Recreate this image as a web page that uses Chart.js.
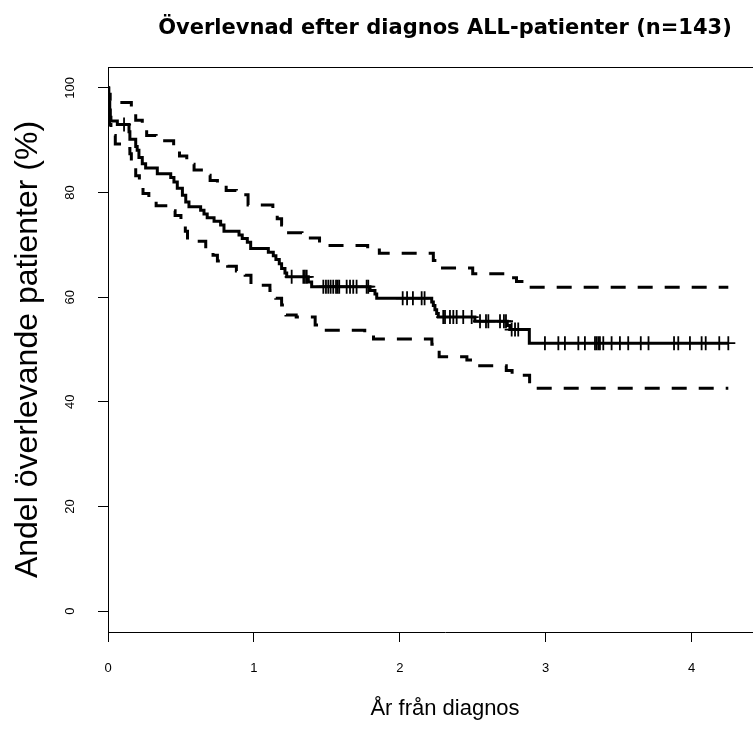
<!DOCTYPE html>
<html>
<head>
<meta charset="utf-8">
<script src="https://cdn.jsdelivr.net/npm/chart.js@4.4.1/dist/chart.umd.min.js"></script>
<style>
  html, body { margin: 0; padding: 0; overflow: hidden; background: #fff; }
  #wrap { width: 890px; height: 731px; }
</style>
</head>
<body>
<div id="wrap"><canvas id="kmChart"></canvas></div>
<script>
// Kaplan-Meier, tid i år och andel överlevande i %
const survTime = [0, 0.004, 0.008, 0.012, 0.016, 0.02, 0.064, 0.144, 0.15, 0.19, 0.2, 0.212, 0.235, 0.258, 0.338, 0.43, 0.452, 0.475, 0.51, 0.533, 0.555, 0.635, 0.658, 0.68, 0.727, 0.772, 0.795, 0.898, 0.92, 0.955, 0.978, 1.099, 1.133, 1.151, 1.174, 1.19, 1.213, 1.225, 1.373, 1.396, 1.796, 1.83, 1.842, 2.219, 2.23, 2.241, 2.253, 2.264, 2.515, 2.737, 2.755, 2.888, 4.252];
const survPct = [100, 98.6, 97.2, 95.8, 94.4, 93.7, 93.0, 91.6, 90.2, 88.8, 88.1, 86.7, 85.5, 84.7, 83.6, 82.9, 82.0, 80.8, 79.5, 78.2, 77.3, 76.6, 75.9, 75.2, 74.5, 73.8, 72.6, 71.9, 71.2, 70.5, 69.3, 68.6, 67.9, 67.2, 66.4, 65.5, 64.6, 63.9, 62.9, 62.0, 61.3, 60.6, 59.8, 59.1, 58.4, 57.6, 56.9, 56.2, 55.4, 54.6, 53.8, 51.2, 51.2];

// 95% konfidensintervall
const upperTime = [0, 0.005, 0.015, 0.16, 0.19, 0.235, 0.265, 0.33, 0.45, 0.49, 0.54, 0.59, 0.64, 0.70, 0.75, 0.81, 0.88, 0.96, 1.13, 1.16, 1.19, 1.22, 1.33, 1.45, 1.50, 1.78, 1.86, 2.23, 2.26, 2.50, 2.74, 2.80, 2.89, 4.252];
const upperPct = [100, 98.8, 97.2, 95.5, 93.8, 92.0, 90.9, 89.9, 88.4, 87.0, 85.4, 84.3, 83.3, 82.3, 81.3, 80.4, 79.6, 77.6, 76.8, 75.0, 73.8, 72.3, 71.3, 70.4, 69.9, 69.0, 68.4, 67.0, 65.6, 64.5, 63.7, 63.0, 61.9, 61.9];
const lowerTime = [0, 0.004, 0.01, 0.02, 0.05, 0.10, 0.15, 0.16, 0.19, 0.215, 0.24, 0.28, 0.33, 0.42, 0.46, 0.50, 0.53, 0.545, 0.67, 0.72, 0.75, 0.82, 0.88, 0.94, 0.98, 1.11, 1.15, 1.19, 1.22, 1.29, 1.42, 1.47, 1.76, 1.82, 2.22, 2.25, 2.27, 2.46, 2.50, 2.73, 2.77, 2.89, 4.252];
const lowerPct = [100, 96.5, 93.0, 90.9, 89.3, 88.4, 87.4, 85.0, 83.2, 81.5, 79.8, 78.5, 77.5, 76.5, 75.6, 74.5, 72.6, 70.7, 69.0, 68.0, 66.9, 65.9, 65.0, 64.2, 62.3, 61.3, 59.8, 58.5, 56.6, 56.2, 54.7, 53.7, 53.2, 52.0, 51.0, 49.9, 48.6, 48.0, 46.9, 46.0, 45.1, 42.6, 42.6];

// censurerade patienter (+)
const censorTime = [0.11, 1.259, 1.339, 1.35, 1.362, 1.476, 1.494, 1.51, 1.526, 1.544, 1.563, 1.574, 1.585, 1.636, 1.659, 1.681, 1.704, 1.773, 1.784, 2.02, 2.05, 2.09, 2.15, 2.17, 2.298, 2.31, 2.344, 2.367, 2.39, 2.435, 2.493, 2.55, 2.591, 2.607, 2.687, 2.714, 2.728, 2.767, 2.79, 2.812, 2.995, 3.087, 3.132, 3.224, 3.269, 3.338, 3.349, 3.361, 3.372, 3.395, 3.452, 3.509, 3.566, 3.652, 3.705, 3.88, 3.909, 3.989, 4.069, 4.097, 4.19, 4.252];

const xTicks = [0, 1, 2, 3, 4];
const yTicks = [0, 20, 40, 60, 80, 100];

const chartTitle = 'Överlevnad efter diagnos ALL-patienter (n=143)';

function toPoints(xs, ys) {
    return xs.map((x, i) => ({ x: x, y: ys[i] }));
}

// värdet på KM-kurvan vid tid t (för plus-tecknen)
function survivalAt(t) {
    let s = survPct[0];
    for (let i = 0; i < survTime.length; i++) {
        if (survTime[i] <= t) s = survPct[i];
    }
    return s;
}

// ram runt plottytan + rubrik centrerad över plottytan
const boxPlugin = {
    id: 'box',
    afterDraw(chart) {
        const { ctx, chartArea: a } = chart;
        ctx.save();
        ctx.strokeStyle = '#000';
        ctx.lineWidth = 1;
        ctx.beginPath();
        ctx.moveTo(a.left, Math.round(a.top) + 0.5);
        ctx.lineTo(a.right, Math.round(a.top) + 0.5);
        ctx.lineTo(Math.round(a.right) + 0.5, a.bottom);
        ctx.stroke();

        ctx.fillStyle = '#000';
        ctx.font = "bold 21px 'DejaVu Sans', Verdana, sans-serif";
        ctx.textAlign = 'center';
        ctx.textBaseline = 'middle';
        ctx.fillText(chartTitle, (a.left + a.right) / 2, 29);
        ctx.restore();
    }
};

Chart.defaults.font.family = "'Liberation Sans', Arial, sans-serif";
Chart.defaults.color = '#000';

const bandStyle = {
    borderColor: '#000',
    borderWidth: 3,
    borderDash: [15, 12],
    borderCapStyle: 'butt',
    pointRadius: 0,
    stepped: true,
    fill: false
};

new Chart(document.getElementById('kmChart').getContext('2d'), {
    type: 'line',
    data: {
        datasets: [
            Object.assign({ label: 'övre', data: toPoints(upperTime, upperPct) }, bandStyle),
            Object.assign({ label: 'nedre', data: toPoints(lowerTime, lowerPct) }, bandStyle),
            {
                label: 'KM',
                data: toPoints(survTime, survPct),
                borderColor: '#000',
                borderWidth: 3,
                pointRadius: 0,
                stepped: true,
                fill: false
            },
            {
                type: 'scatter',
                label: 'censur',
                data: censorTime.map(t => ({ x: t, y: survivalAt(t) })),
                pointStyle: 'cross',
                pointRadius: 7,
                pointBorderWidth: 1.8,
                borderColor: '#000',
                backgroundColor: '#000'
            }
        ]
    },
    options: {
        responsive: true,
        maintainAspectRatio: false,
        animation: false,
        layout: { padding: { top: 67, right: 108, bottom: 0, left: 0 } },
        plugins: {
            legend: { display: false },
            tooltip: { enabled: false },
            title: { display: false }
        },
        scales: {
            x: {
                type: 'linear',
                min: 0,
                max: 4.62,
                afterFit: s => { s.height = 99; },
                afterBuildTicks: s => { s.ticks = xTicks.map(v => ({ value: v })); },
                grid: { drawOnChartArea: false, drawTicks: true, tickLength: 10, color: '#000' },
                border: { display: true, color: '#000', width: 1 },
                ticks: { font: { size: 13 }, padding: 19, maxRotation: 0 },
                title: { display: true, text: 'År från diagnos', font: { size: 22 }, padding: { top: 0, bottom: 9 } }
            },
            y: {
                type: 'linear',
                min: -4,
                max: 104,
                afterFit: s => { s.width = 108; },
                afterBuildTicks: s => { s.ticks = yTicks.map(v => ({ value: v })); },
                grid: { drawOnChartArea: false, drawTicks: true, tickLength: 10, color: '#000' },
                border: { display: true, color: '#000', width: 1 },
                ticks: { font: { size: 13 }, padding: 17, minRotation: 90, crossAlign: 'center' },
                title: { display: true, text: 'Andel överlevande patienter (%)', font: { size: 32 }, padding: { top: 9, bottom: 0 } }
            }
        }
    },
    plugins: [boxPlugin]
});
</script>
</body>
</html>
